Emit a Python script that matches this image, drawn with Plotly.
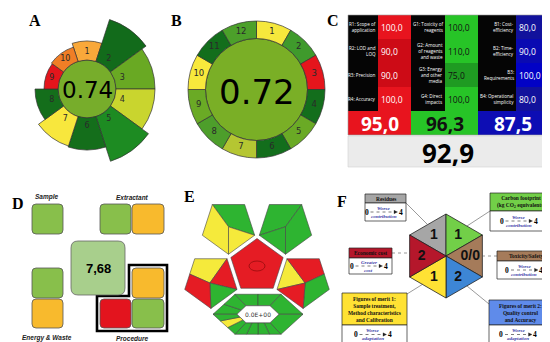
import numpy as np
import plotly.graph_objects as go

W, H = 550, 342

# ======================= DATA =======================
# A - AGREEprep wheel (segment number, length beyond the inner disc, colour)
A_names = ['1', '2', '3', '4', '5', '6', '7', '8', '9', '10']
A_lengths = [19, 44, 39, 39, 47, 32, 31, 23, 14, 15]
A_colors = ['#F9A83A', '#126B1B', '#69A923', '#C9D52E', '#1D8B22',
            '#146E1B', '#F8E73D', '#146E1B', '#E4151C', '#F07E26']
A_score = '0.74'
A_score_color = '#77AD2B'

# B - AGREE wheel
B_names = [str(i) for i in range(1, 13)]
B_colors = ['#F6E83C', '#3F9A2C', '#E5151C', '#136E1C', '#6AAA25', '#136E1C',
            '#B5C632', '#4D9E2B', '#6AAA25', '#F8E93C', '#136E1C', '#4CA02A']
B_score = '0.72'
B_score_color = '#7AAF26'

# C - RGB model
C_R_labels = ['R1: Scope of<br>application', 'R2: LOD and<br>LOQ', 'R3: Precision', 'R4: Accuracy']
C_R_values = [100.0, 90.0, 90.0, 100.0]
C_G_labels = ['G1: Toxicity of<br>reagents', 'G2: Amount<br>of reagents<br>and waste',
              'G3: Energy<br>and other<br>media', 'G4: Direct<br>impacts']
C_G_values = [100.0, 110.0, 75.0, 100.0]
C_B_labels = ['B1: Cost-<br>efficiency', 'B2: Time-<br>efficiency', 'B3:<br>Requirements',
              'B4: Operational<br>simplicity']
C_B_values = [80.0, 90.0, 100.0, 80.0]

# D - pictogram scores
D_sample = ['G']
D_extractant = ['G', 'O']
D_energy = ['G', 'O']
D_procedure = ['O', 'R', 'G']
D_score = '7,68'
D_palette = {'G': '#88BF4B', 'O': '#F8BA2D', 'R': '#E3141E'}

# E - ComplexGAPI-like pentagrams
E_top_left = ['G', 'Y', 'Y']
E_top_right = ['G', 'G', 'G']
E_left = ['Y', 'R', 'G', 'R']
E_right = ['Y', 'R', 'G', 'R']
E_centre = 'R'
E_hex_sides = [['G', 'G'], ['G', 'G'], ['G'], ['G'], ['G', 'G', 'G', 'G'], ['G', 'Y', 'G']]
E_value = '0.0E+00'
E_palette = {'G': '#2EB431', 'Y': '#F5EA3B', 'R': '#E51C24'}

# F - hexagon
F_titles = ['Residues', 'Carbon footprint<br>(kg CO<sub>2</sub> equivalents)', 'Toxicity/Safety',
            'Figures of merit 2:<br>Quality control<br>and Accuracy',
            'Figures of merit 1:<br>Sample treatment,<br>Method characteristics<br>and Calibration',
            'Economic cost']
F_scores = ['1', '1', '0/0', '2', '1', '2']
F_colors = ['#A6A6A6', '#72CF48', '#A57B5A', '#3D86D5', '#FFE234', '#B5172B']
F_title_colors = ['#A6A6A6', '#72CF48', '#A57B5A', '#5F8BEA', '#FFE234', '#B5172B']
F_word_top = ['Worse', 'Worse', 'Worse', 'Worse', 'Worse', 'Greater']
F_word_bottom = ['contribution', 'contribution', 'contribution', 'adaptation', 'adaptation', 'cost']

# ======================= HELPERS =======================
fig = go.Figure()
shapes, ann = [], []
LAYER = 'below'


def poly(pts, fill, line='#444444', lw=0.6):
    d = 'M' + ' L'.join(f'{x:.2f},{y:.2f}' for x, y in pts) + ' Z'
    shapes.append(dict(type='path', path=d, fillcolor=fill, line=dict(color=line, width=lw),
                       xref='x', yref='y', layer=LAYER))


def rect(x0, y0, x1, y1, fill, line='rgba(0,0,0,0)', lw=0):
    shapes.append(dict(type='rect', x0=x0, y0=y0, x1=x1, y1=y1, fillcolor=fill,
                       line=dict(color=line, width=lw), xref='x', yref='y', layer=LAYER))


def rrect(x0, y0, x1, y1, r, fill, line='#555555', lw=0.8):
    d = (f'M{x0+r},{y0} L{x1-r},{y0} Q{x1},{y0} {x1},{y0+r} L{x1},{y1-r} Q{x1},{y1} {x1-r},{y1} '
         f'L{x0+r},{y1} Q{x0},{y1} {x0},{y1-r} L{x0},{y0+r} Q{x0},{y0} {x0+r},{y0} Z')
    shapes.append(dict(type='path', path=d, fillcolor=fill, line=dict(color=line, width=lw),
                       xref='x', yref='y', layer=LAYER))


def line(x0, y0, x1, y1, color='#555555', lw=0.6, dash='solid'):
    shapes.append(dict(type='line', x0=x0, y0=y0, x1=x1, y1=y1, line=dict(color=color, width=lw, dash=dash),
                       xref='x', yref='y', layer=LAYER))


def text(x, y, s, size, color='black', family='Liberation Sans', xanchor='center', yanchor='middle', align='center'):
    ann.append(dict(x=x, y=y, text=s, showarrow=False, xref='x', yref='y', xanchor=xanchor, yanchor=yanchor,
                    align=align, borderpad=0,
                    font=dict(size=size, color=color, family=family)))


def pdomain(cx, cy, R):
    return dict(x=[(cx - R) / W, (cx + R) / W], y=[(H - cy - R) / H, (H - cy + R) / H])


# panel letters
for lab, (x, y) in zip('ABCDEF', [(27, 12), (168, 12), (325, 12), (10, 195), (181, 188), (334, 193)]):
    text(x, y, f'<b>{lab}</b>', 16, family='Liberation Serif')

# ======================= A =======================
A_cx, A_cy, A_R, A_in = 79, 81, 78, 29
A_theta = [36 * i for i in range(len(A_names))]
fig.add_trace(go.Barpolar(r=A_lengths, theta=A_theta, width=[36] * 10, base=A_in,
                          marker=dict(color=A_colors, line=dict(color='#333333', width=0.7)),
                          subplot='polar', hoverinfo='skip', showlegend=False))
fig.add_trace(go.Scatterpolar(r=[A_in + 8] * 10, theta=A_theta, mode='text', text=A_names,
                              textfont=dict(size=8, color='#2a2a2a', family='DejaVu Sans'),
                              subplot='polar', hoverinfo='skip', showlegend=False))
shapes.append(dict(type='circle', x0=A_cx - A_in, x1=A_cx + A_in, y0=A_cy - A_in, y1=A_cy + A_in,
                   fillcolor=A_score_color, line=dict(color='#333333', width=0.7), xref='x', yref='y',
                   layer=LAYER))
text(A_cx, A_cy + 1, A_score, 23, family='DejaVu Sans')

# ======================= B =======================
B_cx, B_cy, B_R, B_in, B_out = 248.5, 81.5, 70, 51, 68.5
B_theta = [15 + 30 * i for i in range(12)]
fig.add_trace(go.Barpolar(r=[B_out - B_in] * 12, theta=B_theta, width=[30] * 12, base=B_in,
                          marker=dict(color=B_colors, line=dict(color='#333333', width=0.7)),
                          subplot='polar2', hoverinfo='skip', showlegend=False))
fig.add_trace(go.Scatterpolar(r=[(B_in + B_out) / 2] * 12, theta=B_theta, mode='text', text=B_names,
                              textfont=dict(size=8.5, color='#2a2a2a', family='DejaVu Sans'),
                              subplot='polar2', hoverinfo='skip', showlegend=False))
shapes.append(dict(type='circle', x0=B_cx - B_in, x1=B_cx + B_in, y0=B_cy - B_in, y1=B_cy + B_in,
                   fillcolor=B_score_color, line=dict(color='#333333', width=0.7), xref='x', yref='y',
                   layer=LAYER))
text(B_cx, B_cy + 2, B_score, 34, family='DejaVu Sans')

# ======================= C =======================
C_cols = [340, 370, 403, 437, 470, 508, 540]
C_rows = [7, 31, 55, 79, 103, 127]
red_shade = {100.0: '#E8141E', 90.0: '#CD0B16'}
green_shade = {100.0: '#27C427', 110.0: '#27C427', 75.0: '#1F9B22'}
blue_shade = {80.0: '#12129C', 90.0: '#0A0AB2', 100.0: '#0202C6'}
C_groups = [(C_R_labels, C_R_values, red_shade, 'white', '#E8141E', 'white'),
            (C_G_labels, C_G_values, green_shade, '#111111', '#27C427', '#111111'),
            (C_B_labels, C_B_values, blue_shade, 'white', '#0D0DB4', 'white')]
means = []
for g, (labs, vals, shade, tcol, scol, stcol) in enumerate(C_groups):
    lx0, lx1, vx1 = C_cols[2 * g], C_cols[2 * g + 1], C_cols[2 * g + 2]
    rect(lx0, C_rows[0], lx1, C_rows[4], '#050505')
    for i, (lab, v) in enumerate(zip(labs, vals)):
        y0, y1 = C_rows[i], C_rows[i + 1]
        rect(lx1, y0, vx1, y1, shade[v])
        text(lx1 - 1, (y0 + y1) / 2, lab, 4.6, color='white', family='Open Sans', xanchor='right', align='right')
        text(lx1 + 2, (y0 + y1) / 2, f'{v:.1f}'.replace('.', ','), 8.5, color=tcol, family='Open Sans',
             xanchor='left')
    m = float(np.mean(vals))
    means.append(m)
    rect(lx0, C_rows[4], vx1, C_rows[5], scol)
    text((lx0 + vx1) / 2, (C_rows[4] + C_rows[5]) / 2 + 0.5, '<b>' + f'{m + 1e-9:.1f}'.replace('.', ',') + '</b>',
         19, color=stcol, family='Open Sans')
rect(C_cols[0], 128, C_cols[-1], 159, '#EBEBEB', line='#D0D0D0', lw=0.6)
text((C_cols[0] + C_cols[-1]) / 2, 144.5, '<b>' + f'{np.mean(means) + 1e-9:.1f}'.replace('.', ',') + '</b>', 26,
     family='Open Sans')
shapes.append(dict(type='rect', x0=C_cols[0], y0=C_rows[0], x1=C_cols[-1], y1=C_rows[5],
                   line=dict(color='#9a9a9a', width=0.6), xref='x', yref='y', layer=LAYER))

# ======================= D =======================
def dbox(x0, y0, code, w=31, h=30):
    rrect(x0, y0, x0 + w, y0 + h, 4, D_palette[code])

dbox(24, 196, D_sample[0])
dbox(92, 196, D_extractant[0], w=31)
dbox(124, 196, D_extractant[1], w=32)
dbox(24, 260, D_energy[0])
dbox(24, 291, D_energy[1], h=29)
shapes.append(dict(type='path', path='M89,288 L121,288 L121,257 L159,257 L159,323 L89,323 Z',
                   fillcolor='rgba(0,0,0,0)', line=dict(color='black', width=2.6), xref='x', yref='y',
                   layer=LAYER))
dbox(124, 260, D_procedure[0], w=32)
dbox(92, 291, D_procedure[1], w=31, h=29)
dbox(124, 291, D_procedure[2], w=32, h=29)
rrect(63, 233, 117, 287, 7, '#A8CF8C', line='#666666')
text(90, 260, f'<b>{D_score}</b>', 13)
for s, (x, y) in zip(['Sample', 'Extractant', 'Energy & Waste', 'Procedure'],
                     [(39, 189), (124, 189), (39, 330), (124, 330)]):
    text(x, y, f'<b><i>{s}</i></b>', 6.5, color='#222222')

# ======================= E =======================
E_cx, E_cy, E_R, E_gap = 249, 258, 27.5, 4.0
apo = E_R * np.cos(np.deg2rad(36))


def pent(cx, cy, R, down):
    off = 90 if down else -90
    return [(cx + R * np.cos(np.deg2rad(off + 72 * k)), cy + R * np.sin(np.deg2rad(off + 72 * k))) for k in range(5)]


def nb_centre(ang):
    d = 2 * apo + E_gap
    return E_cx + d * np.cos(np.deg2rad(ang)), E_cy + d * np.sin(np.deg2rad(ang))


def mid(a, b):
    return ((a[0] + b[0]) / 2, (a[1] + b[1]) / 2)


poly(pent(E_cx, E_cy, E_R, False), E_palette[E_centre])
shapes.append(dict(type='circle', x0=E_cx - 8, x1=E_cx + 8, y0=E_cy - 5, y1=E_cy + 5,
                   line=dict(color='#8B0A0A', width=0.7), xref='x', yref='y', layer=LAYER))
c = nb_centre(234)
v = pent(c[0], c[1], E_R, True)
P = c
for pts, col in zip([[v[2], v[3], v[4], P], [v[4], v[0], P], [v[0], v[1], v[2], P]], E_top_left):
    poly(pts, E_palette[col])
c = nb_centre(-54)
v = pent(c[0], c[1], E_R, True)
P = c
for pts, col in zip([[v[2], v[3], P, v[1]], [v[3], v[4], v[0], P], [v[0], v[1], P]], E_top_right):
    poly(pts, E_palette[col])
c = nb_centre(162)
v = pent(c[0], c[1], E_R, True)
P = (c[0] - 1, c[1] + 2)
Q = mid(v[1], v[2])
for pts, col in zip([[Q, v[2], v[3], P], [v[3], v[4], P], [v[4], v[0], P], [v[0], v[1], Q, P]], E_left):
    poly(pts, E_palette[col])
c = nb_centre(18)
v = pent(c[0], c[1], E_R, True)
P = (c[0] + 2, c[1] + 2)
Q = mid(v[3], v[4])
for pts, col in zip([[v[2], P, v[1]], [v[2], v[3], Q, P], [Q, v[4], v[0], P], [v[0], v[1], P]], E_right):
    poly(pts, E_palette[col])
hx, hy = E_cx + 1, E_cy + apo + E_gap + 22
O = [(hx - 45, hy), (hx - 23, hy - 20), (hx + 23, hy - 20), (hx + 45, hy), (hx + 23, hy + 20), (hx - 23, hy + 20)]
I = [(hx - 21, hy), (hx - 12, hy - 8.5), (hx + 12, hy - 8.5), (hx + 21, hy), (hx + 12, hy + 8.5), (hx - 12, hy + 8.5)]


def lerp(a, b, t):
    return (a[0] + (b[0] - a[0]) * t, a[1] + (b[1] - a[1]) * t)


for s in range(6):
    cols = E_hex_sides[s]
    n = len(cols)
    o0, o1, i0, i1 = O[s], O[(s + 1) % 6], I[s], I[(s + 1) % 6]
    for k in range(n):
        t0, t1 = k / n, (k + 1) / n
        poly([lerp(o0, o1, t0), lerp(o0, o1, t1), lerp(i0, i1, t1), lerp(i0, i1, t0)], E_palette[cols[k]])
poly(I, 'white')
text(hx, hy, E_value, 6, color='#333333', family='DejaVu Sans')

# ======================= F =======================
F_cx, F_cy, F_R = 438, 248, 42
hexv = [(F_cx + F_R * np.cos(np.deg2rad(-90 + 60 * k)), F_cy + F_R * np.sin(np.deg2rad(-90 + 60 * k)))
        for k in range(6)]  # top, UR, LR, bottom, LL, UL
tri_pairs = [(5, 0), (0, 1), (1, 2), (2, 3), (3, 4), (4, 5)]
cx_list, cy_list = [], []
for (a, b), col in zip(tri_pairs, F_colors):
    poly([(F_cx, F_cy), hexv[a], hexv[b]], col, line='#222222', lw=0.8)
    cx_list.append((F_cx + hexv[a][0] + hexv[b][0]) / 3)
    cy_list.append((F_cy + hexv[a][1] + hexv[b][1]) / 3)
fig.add_trace(go.Scatter(x=cx_list, y=cy_list, mode='text', text=[f'<b>{s}</b>' for s in F_scores],
                         textfont=dict(size=14, color='#111111', family='Liberation Sans'),
                         hoverinfo='skip', showlegend=False))

for (x0, y0, x1, y1, d) in [(398, 195, 419, 216, 'solid'), (482, 203, 459, 218, 'solid'),
                            (489, 248, 474, 248, 'dot'), (481, 296, 459, 278, 'solid'),
                            (399, 286, 415, 276, 'solid'), (384, 245, 402, 245, 'dot')]:
    line(x0, y0, x1, y1, color='#555555', lw=0.6, dash=d)

F_boxes = [(357, 398, 186, 195, 213), (482, 543, 185, 203, 223), (489, 547, 243, 253, 271),
           (481, 543, 292, 317, 336), (334, 399, 285, 317, 336), (341, 384, 240, 250, 266)]
for i, (x0, x1, t0, t1, b1) in enumerate(F_boxes):
    rect(x0, t0, x1, t1, F_title_colors[i], line='#222222', lw=0.7)
    rect(x0, t1, x1, b1, 'white', line='#222222', lw=0.7)
    text((x0 + x1) / 2, (t0 + t1) / 2 + 0.3, f'<b>{F_titles[i]}</b>', 5.4, color='#111111',
         family='Liberation Serif')
    ym = (t1 + b1) / 2
    cxs = (x0 + x1) / 2 - 2
    text(cxs - 17, ym, '<b>0</b>', 7.5, family='Liberation Serif')
    text(cxs + 17, ym, '<b>4</b>', 7.5, family='Liberation Serif')
    line(cxs - 13, ym, cxs + 11, ym, color='#222222', lw=0.6, dash='dot')
    poly([(cxs + 14, ym), (cxs + 10.5, ym - 1.7), (cxs + 10.5, ym + 1.7)], '#222222', line='#222222', lw=0.3)
    text(cxs, ym - 4, f'<b><i>{F_word_top[i]}</i></b>', 5, color='#3A3AA8', family='Liberation Serif')
    text(cxs, ym + 4.2, f'<b><i>{F_word_bottom[i]}</i></b>', 5, color='#3A3AA8', family='Liberation Serif')

# ======================= LAYOUT =======================
fig.update_layout(
    width=W, height=H, margin=dict(l=0, r=0, t=0, b=0),
    paper_bgcolor='white', plot_bgcolor='rgba(0,0,0,0)', showlegend=False,
    xaxis=dict(range=[0, W], visible=False, fixedrange=True, domain=[0, 1]),
    yaxis=dict(range=[H, 0], visible=False, fixedrange=True, domain=[0, 1]),
    polar=dict(domain=pdomain(A_cx, A_cy, A_R), bgcolor='rgba(0,0,0,0)', barmode='overlay',
               radialaxis=dict(visible=False, range=[0, A_R]),
               angularaxis=dict(visible=False, rotation=90, direction='clockwise')),
    polar2=dict(domain=pdomain(B_cx, B_cy, B_R), bgcolor='rgba(0,0,0,0)', barmode='overlay',
                radialaxis=dict(visible=False, range=[0, B_R]),
                angularaxis=dict(visible=False, rotation=90, direction='clockwise')),
    shapes=shapes, annotations=ann,
)
fig.write_html('out.html')
